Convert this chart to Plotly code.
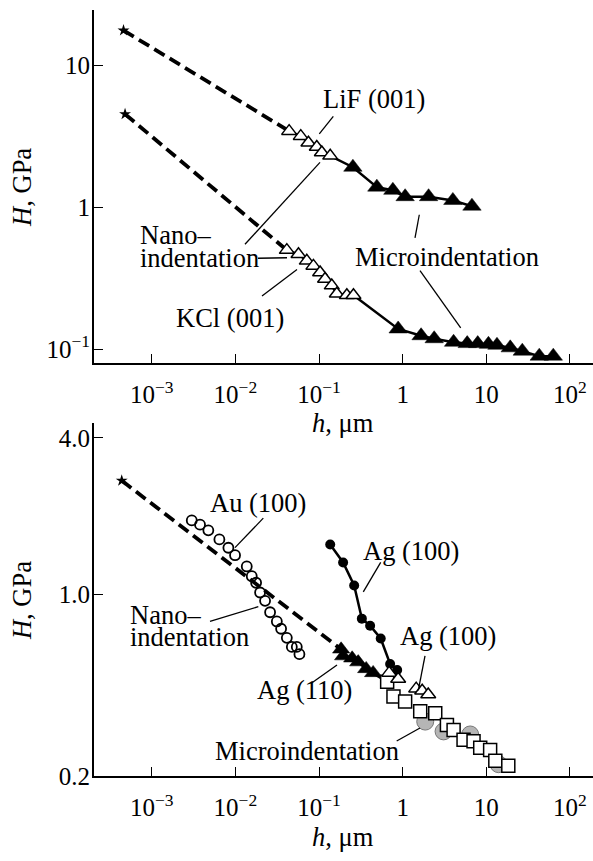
import plotly.graph_objects as go

FIG_W, FIG_H = 593, 861
FONT = "Liberation Serif, Times New Roman, serif"

# ---------------- data: top panel (LiF, KCl) ----------------
lif_star_h = [4.6e-4]
lif_star_H = [17.7]
lif_nano_h = [0.0439, 0.0605, 0.0747, 0.094, 0.108, 0.136]
lif_nano_H = [3.45, 3.18, 2.86, 2.67, 2.44, 2.31]
lif_micro_h = [0.254, 0.491, 0.763, 1.07, 2.04, 3.98, 6.73]
lif_micro_H = [1.92, 1.39, 1.32, 1.19, 1.19, 1.12, 1.02]

kcl_star_h = [4.8e-4]
kcl_star_H = [4.55]
kcl_nano_h = [0.0412, 0.0568, 0.0714, 0.0857, 0.103, 0.118, 0.142, 0.163, 0.215, 0.258]
kcl_nano_H = [0.50, 0.467, 0.42, 0.387, 0.348, 0.313, 0.281, 0.246, 0.240, 0.240]
kcl_micro_h = [0.883, 1.66, 2.38, 4.06, 5.91, 7.89, 10.6, 13.4, 19.3, 26.9, 42.9, 63.1]
kcl_micro_H = [0.139, 0.1245, 0.1186, 0.112, 0.1096, 0.1096, 0.1084, 0.1067, 0.1023,
               0.0969, 0.0894, 0.0894]

# ---------------- data: bottom panel (Au, Ag) ----------------
bot_star_h = [4.38e-4]
bot_star_H = [2.74]
au100_h = [0.00301, 0.00378, 0.00475, 0.00644, 0.00825, 0.00991, 0.01368, 0.0157, 0.01769,
           0.01974, 0.02265, 0.026, 0.0313, 0.0352, 0.0412, 0.0473, 0.0542, 0.0583]
au100_H = [1.926, 1.855, 1.765, 1.628, 1.513, 1.416, 1.282, 1.176, 1.110,
           1.018, 0.946, 0.855, 0.788, 0.739, 0.682, 0.629, 0.629, 0.590]
ag100_fill_h = [0.136, 0.194, 0.263, 0.325, 0.408, 0.546, 0.708, 0.859]
ag100_fill_H = [1.556, 1.328, 1.084, 0.808, 0.759, 0.678, 0.541, 0.513]
ag110_h = [0.1837, 0.194, 0.249, 0.294, 0.366, 0.443]
ag110_H = [0.616, 0.580, 0.569, 0.550, 0.518, 0.500]
ag100_open_h = [0.689, 0.883, 1.45, 1.71, 2.02]
ag100_open_H = [0.500, 0.474, 0.435, 0.427, 0.413]
sq_h = [0.652, 0.776, 1.07, 1.62, 2.45, 3.38, 4.06, 5.34, 7.03, 8.45, 11.1, 12.8, 18.3]
sq_H = [0.462, 0.406, 0.388, 0.356, 0.350, 0.315, 0.302, 0.277, 0.273, 0.258, 0.253, 0.230, 0.220]
grey_h = [1.86, 3.08, 6.41, 14.0]
grey_H = [0.325, 0.298, 0.290, 0.223]

# ---------------- ticks ----------------
x_tickvals = [1e-3, 1e-2, 1e-1, 1, 10, 100]
x_ticktext = ["10<sup>−3</sup>", "10<sup>−2</sup>", "10<sup>−1</sup>", "1", "10", "10<sup>2</sup>"]
y1_tickvals = [0.1, 1, 10]
y1_ticktext = ["10<sup>−1</sup>", "1", "10"]
y2_tickvals = [0.2, 1.0, 4.0]
y2_ticktext = ["0.2", "1.0", "4.0"]

BLACK = "black"
DASH = "12px,6px"


def px(x):
    return x / FIG_W


def py(y):
    return 1 - y / FIG_H


fig = go.Figure()


def add_line(x, y, xa, ya, dash=None, width=2.5):
    fig.add_trace(go.Scatter(x=x, y=y, mode="lines", xaxis=xa, yaxis=ya,
                             line=dict(color=BLACK, width=width, dash=dash),
                             hoverinfo="skip", cliponaxis=False))


def add_markers(x, y, xa, ya, symbol, size, fill, lw=1.5, lc=BLACK):
    fig.add_trace(go.Scatter(x=x, y=y, mode="markers", xaxis=xa, yaxis=ya,
                             marker=dict(symbol=symbol, size=size, color=fill,
                                         line=dict(color=lc, width=lw)),
                             cliponaxis=False))


# ---- top panel ----
add_line([lif_star_h[0], lif_nano_h[0]], [lif_star_H[0], lif_nano_H[0]], "x", "y", DASH, 3.8)
add_line([kcl_star_h[0], kcl_nano_h[0]], [kcl_star_H[0], kcl_nano_H[0]], "x", "y", DASH, 3.8)
add_line(lif_nano_h + lif_micro_h, lif_nano_H + lif_micro_H, "x", "y", None, 2.5)
add_line(kcl_nano_h + kcl_micro_h, kcl_nano_H + kcl_micro_H, "x", "y", None, 2.5)
add_markers(lif_star_h, lif_star_H, "x", "y", "star", 9, BLACK, 0)
add_markers(kcl_star_h, kcl_star_H, "x", "y", "star", 9, BLACK, 0)
add_markers(lif_nano_h, lif_nano_H, "x", "y", "triangle-up", 13, "white")
add_markers(kcl_nano_h, kcl_nano_H, "x", "y", "triangle-up", 13, "white")
add_markers(lif_micro_h, lif_micro_H, "x", "y", "triangle-up", 16, BLACK, 0.5)
add_markers(kcl_micro_h, kcl_micro_H, "x", "y", "triangle-up", 16, BLACK, 0.5)

# ---- bottom panel ----
add_line([bot_star_h[0], ag110_h[0]], [bot_star_H[0], ag110_H[0]], "x2", "y2", DASH, 3.8)
add_markers(bot_star_h, bot_star_H, "x2", "y2", "star", 9, BLACK, 0)
add_markers(au100_h, au100_H, "x2", "y2", "circle-open", 10, BLACK, 1.8)
add_line(ag100_fill_h, ag100_fill_H, "x2", "y2", None, 2.5)
add_markers(ag100_fill_h, ag100_fill_H, "x2", "y2", "circle", 10, BLACK, 0)
add_line(ag110_h + [sq_h[0]], ag110_H + [sq_H[0]], "x2", "y2", None, 2.5)
add_markers(ag110_h, ag110_H, "x2", "y2", "triangle-up", 15, BLACK, 0.5)
add_markers(grey_h, grey_H, "x2", "y2", "circle", 17, "#b5b5b5", 1, "#777777")
add_markers(sq_h, sq_H, "x2", "y2", "square", 13, "white")
add_markers(ag100_open_h, ag100_open_H, "x2", "y2", "triangle-up", 13, "white")

# ---- axes ----
axis_common = dict(type="log", showline=True, linecolor=BLACK, linewidth=2,
                   ticks="inside", ticklen=9, tickwidth=1.3, tickcolor=BLACK,
                   showgrid=False, zeroline=False, mirror=False,
                   tickfont=dict(family=FONT, size=25, color=BLACK))
xdom = [px(94), 1.0]
xrange = [-3.690, 2.275]
fig.update_layout(
    width=FIG_W, height=FIG_H,
    margin=dict(l=0, r=0, t=0, b=0),
    paper_bgcolor="white", plot_bgcolor="white",
    showlegend=False,
    font=dict(family=FONT, size=25, color=BLACK),
    xaxis=dict(axis_common, domain=xdom, range=xrange, anchor="y",
               tickvals=x_tickvals, ticktext=x_ticktext, ticklabelstandoff=8),
    yaxis=dict(axis_common, domain=[py(369), py(10)], range=[-1.097, 1.393], anchor="x",
               tickvals=y1_tickvals, ticktext=y1_ticktext, ticklabelstandoff=-3),
    xaxis2=dict(axis_common, domain=xdom, range=xrange, anchor="y2",
                tickvals=x_tickvals, ticktext=x_ticktext, ticklabelstandoff=8),
    yaxis2=dict(axis_common, domain=[py(789.3), py(430)], range=[-0.69897, 0.659], anchor="x2",
                tickvals=y2_tickvals, ticktext=y2_ticktext, ticklabelstandoff=-3),
)

# ---- text annotations (pixel positions converted to paper) ----
ann = [
    # (text, x, y, xanchor, angle)
    ("<i>H</i>, GPa", 22, 191, "center", -90),
    ("<i>h</i>, μm", 343, 430, "center", 0),
    ("<i>H</i>, GPa", 22, 611, "center", -90),
    ("<i>h</i>, μm", 343, 851, "center", 0),
    ("LiF (001)", 373.5, 101, "center", 0),
    ("Nano–", 138, 239, "left", 0),
    ("indentation", 138, 262, "left", 0),
    ("KCl (001)", 230, 323, "center", 0),
    ("Microindentation", 446.5, 261, "center", 0),
    ("Au (100)", 257.5, 511, "center", 0),
    ("Nano–", 128, 625, "left", 0),
    ("indentation", 128, 648, "left", 0),
    ("Ag (100)", 410.5, 560, "center", 0),
    ("Ag (100)", 447.5, 647, "center", 0),
    ("Ag (110)", 304.5, 701, "center", 0),
    ("Microindentation", 306.5, 763, "center", 0),
]
for text, x, y, xa, ang in ann:
    fig.add_annotation(text=text, x=px(x), y=py(y), xref="paper", yref="paper",
                       xanchor=xa, yanchor="middle", showarrow=False, textangle=ang,
                       font=dict(family=FONT, size=26.5, color=BLACK))

leaders = [
    ((333.3, 118.3), (319.3, 136)),
    ((245, 248.3), (320, 165)),
    ((258, 262.5), (287, 262)),
    ((262, 301), (297, 274)),
    ((415, 241.7), (419.3, 218.3)),
    ((420, 275), (460.7, 333.3)),
    ((263.3, 526.7), (235, 556.7)),
    ((210, 631.7), (258.3, 616.7)),
    ((380.7, 571.7), (363.3, 601.7)),
    ((425, 666.7), (418.3, 701.7)),
    ((337, 676), (312, 694)),
    ((396.7, 753.3), (420, 740)),
]
for (x0, y0), (x1, y1) in leaders:
    fig.add_shape(type="line", xref="paper", yref="paper",
                  x0=px(x0), y0=py(y0), x1=px(x1), y1=py(y1),
                  line=dict(color=BLACK, width=1.3))

fig.write_html("out.html")
